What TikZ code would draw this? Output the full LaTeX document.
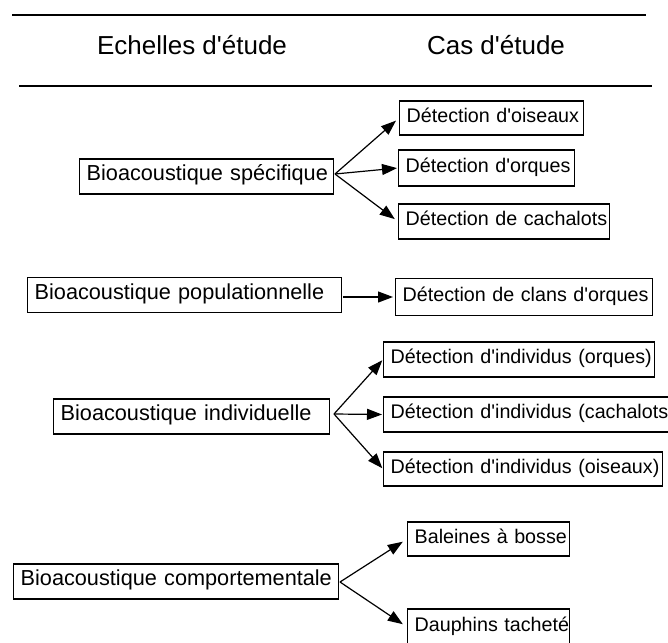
\documentclass[tikz,border=0pt]{standalone}
\usepackage{fontspec}
\setmainfont{Liberation Sans}
\usetikzlibrary{arrows.meta}
\newcommand{\apos}{\textquotesingle}
\begin{document}
\begin{tikzpicture}[x=1pt,y=-1pt,
  box/.style={draw,line width=1.3pt,inner xsep=7pt,inner ysep=0pt,align=left,anchor=west,
    text height=0.95em,text depth=0.1em},
  lbox/.style={box,font=\fontsize{21.7}{26}\selectfont,minimum height=35pt},
  cbox/.style={box,font=\fontsize{19.7}{24}\selectfont,minimum height=35pt},
  hdr/.style={font=\fontsize{26}{30}\selectfont},
  arr/.style={-{Triangle[length=15pt,width=11pt]},line width=1.2pt},
  hrule/.style={line width=2pt}]
\clip (0,0) rectangle (668,642);
\fill[white] (0,0) rectangle (668,642);
% header rules
\coordinate (r1a) at (12,15);  \coordinate (r1b) at (646,15);
\coordinate (r2a) at (19,86);  \coordinate (r2b) at (652,86);
\draw[hrule] (r1a) -- (r1b);
\draw[hrule] (r2a) -- (r2b);
\node[hdr] (h1) at (192,45) {Echelles d\apos étude};
\node[hdr] (h2) at (496,45) {Cas d\apos étude};
% left column
\node[lbox,text width=240pt] (spec) at (79,176.5) {\mbox{Bioacoustique spécifique}};
\node[lbox,text width=300pt] (pop) at (27,295) {\mbox{Bioacoustique populationnelle}};
\node[lbox,text width=262pt] (ind) at (53,416.5) {\mbox{Bioacoustique individuelle}};
\node[lbox,text width=311pt] (comp) at (13,581.5) {\mbox{Bioacoustique comportementale}};
% right column
\node[cbox,text width=170pt,minimum height=34pt] (ois) at (399,118) {\mbox{Détection d\apos oiseaux}};
\node[cbox,text width=162pt,minimum height=36pt] (orq) at (398,168) {\mbox{Détection d\apos orques}};
\node[cbox,text width=197pt] (cach) at (398,221.5) {\mbox{Détection de cachalots}};
\node[cbox,text width=243pt,minimum height=37pt] (clans) at (395,297) {\mbox{Détection de clans d\apos orques}};
\node[cbox,text width=257pt] (iorq) at (383,359.5) {\mbox{Détection d\apos individus (orques)}};
\node[cbox,text width=283pt] (icach) at (383,414.5) {\mbox{Détection d\apos individus (cachalots)}};
\node[cbox,text width=265pt,minimum height=34pt] (iois) at (383,469) {\mbox{Détection d\apos individus (oiseaux)}};
\node[cbox,text width=148pt,minimum height=34pt] (bal) at (407,539) {\mbox{Baleines à bosse}};
\node[cbox,text width=148pt,minimum height=36pt] (dau) at (407,627) {\mbox{Dauphins tacheté}};
% arrow origins
\coordinate (so) at (335,174);
\coordinate (po) at (343,297);
\coordinate (io) at (334,414);
\coordinate (co) at (340,582);
% arrows
\draw[arr,shorten >=4pt] (so) -- (ois.west);
\draw[arr,shorten >=1pt] (so) -- (orq.west);
\draw[arr,shorten >=4pt] (so) -- (cach.west);
\draw[arr,shorten >=2pt] (po) -- (clans.west);
\draw[arr,shorten >=1pt] (io) -- (iorq.west);
\draw[arr,shorten >=1pt] (io) -- (icach.west);
\draw[arr,shorten >=1pt] (io) -- (iois.west);
\draw[arr,shorten >=5pt] (co) -- (bal.west);
\draw[arr,shorten >=5pt] (co) -- (dau.west);
\end{tikzpicture}
\end{document}
